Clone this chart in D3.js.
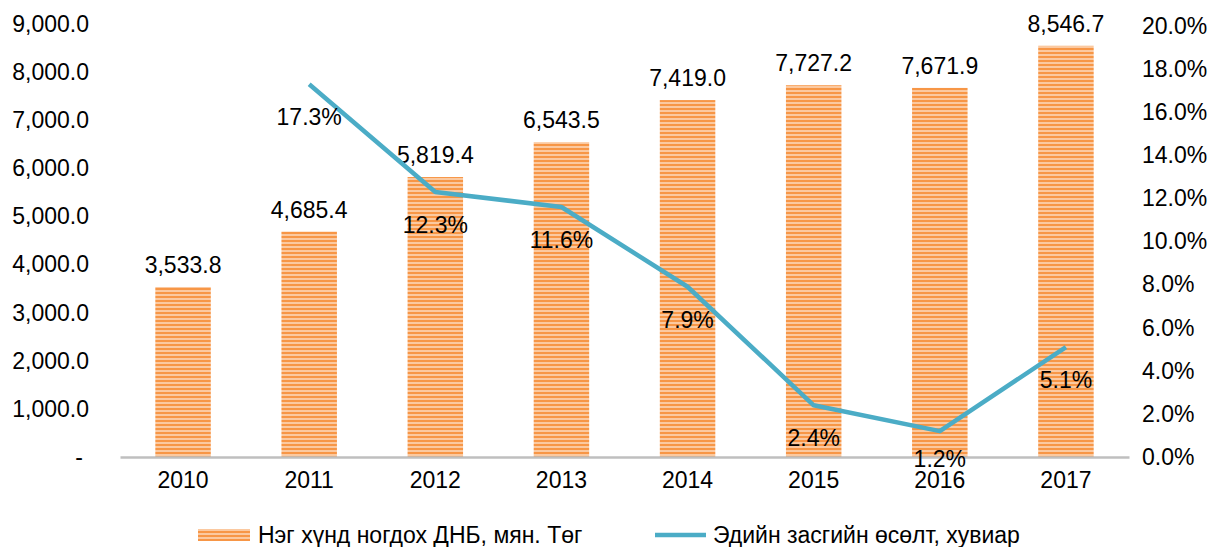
<!DOCTYPE html>
<html lang="mn">
<head>
<meta charset="UTF-8">
<title>ДНБ</title>
<style>
  body { margin: 0; background: #fff; }
  svg text { font-family: "Liberation Sans", Arial, sans-serif; fill: #000; }
</style>
</head>
<body>
<div id="chart"></div>
<script src="https://cdn.jsdelivr.net/npm/d3@7"></script>
<script>
// data
var years = ["2010", "2011", "2012", "2013", "2014", "2015", "2016", "2017"];
var gdpPerCapita = [3533.8, 4685.4, 5819.4, 6543.5, 7419.0, 7727.2, 7671.9, 8546.7];
var growth = [null, 17.3, 12.3, 11.6, 7.9, 2.4, 1.2, 5.1];
var leftTicks = [0, 1000, 2000, 3000, 4000, 5000, 6000, 7000, 8000, 9000];
var rightTicks = [0, 2, 4, 6, 8, 10, 12, 14, 16, 18, 20];
var legendBar = "Нэг хүнд ногдох ДНБ, мян. Төг";
var legendLine = "Эдийн засгийн өсөлт, хувиар";

var W = 1222, H = 547;
var plotL = 120, plotR = 1129, plotT = 24, plotB = 457;
var fs = 23;

var svg = d3.select("#chart").append("svg")
    .attr("width", W).attr("height", H);

// stripe pattern for bars
var pat = svg.append("defs").append("pattern")
    .attr("id", "stripes")
    .attr("patternUnits", "userSpaceOnUse")
    .attr("width", 8).attr("height", 4);
pat.append("rect").attr("width", 8).attr("height", 4).attr("fill", "#fbc9a0");
pat.append("rect").attr("width", 8).attr("height", 2).attr("fill", "#f79646");

var x = d3.scaleBand().domain(years).range([plotL, plotR]).paddingInner(0.56).paddingOuter(0.28);
var y = d3.scaleLinear().domain([0, 9000]).range([plotB, plotT]);
var y2 = d3.scaleLinear().domain([0, 20]).range([plotB, 26]);

var fmt = d3.format(",.1f");

// left axis
var ax = svg.append("g")
    .attr("transform", "translate(" + (plotL - 28) + ",0)")
    .call(d3.axisLeft(y).tickValues(leftTicks).tickSize(0)
        .tickFormat(function(d) { return d === 0 ? "-" : fmt(d); }));
ax.select(".domain").remove();
ax.selectAll("text").attr("font-size", fs);
ax.selectAll(".tick").filter(function(d) { return d === 0; }).select("text").attr("dx", "-6");

// right axis
var ax2 = svg.append("g")
    .attr("transform", "translate(" + (plotR + 10) + ",0)")
    .call(d3.axisRight(y2).tickValues(rightTicks).tickSize(0)
        .tickFormat(function(d) { return d.toFixed(1) + "%"; }));
ax2.select(".domain").remove();
ax2.selectAll("text").attr("font-size", fs);

// bars
svg.selectAll("rect.bar").data(gdpPerCapita).enter().append("rect")
    .attr("class", "bar")
    .attr("x", function(d, i) { return x(years[i]); })
    .attr("width", x.bandwidth())
    .attr("y", function(d) { return y(d); })
    .attr("height", function(d) { return y(0) - y(d); })
    .attr("fill", "url(#stripes)");

// bottom axis
var axb = svg.append("g")
    .attr("transform", "translate(0," + plotB + ")")
    .call(d3.axisBottom(x).tickSize(0).tickPadding(15));
axb.select(".domain").attr("stroke", "#bfbfbf").attr("stroke-width", 2.5);
axb.selectAll("text").attr("font-size", fs);

// bar labels
svg.selectAll("text.barlab").data(gdpPerCapita).enter().append("text")
    .attr("class", "barlab")
    .attr("x", function(d, i) { return x(years[i]) + x.bandwidth() / 2; })
    .attr("y", function(d) { return y(d) - 14; })
    .attr("text-anchor", "middle")
    .attr("font-size", fs)
    .text(function(d) { return fmt(d); });

// growth line
var pts = growth.map(function(g, i) { return { year: years[i], v: g }; })
    .filter(function(p) { return p.v !== null; });
var line = d3.line()
    .x(function(p) { return x(p.year) + x.bandwidth() / 2; })
    .y(function(p) { return y2(p.v); });
svg.append("path").datum(pts)
    .attr("d", line)
    .attr("fill", "none")
    .attr("stroke", "#4bacc6")
    .attr("stroke-width", 4.5)
    .attr("stroke-linejoin", "round");

svg.selectAll("text.linelab").data(pts).enter().append("text")
    .attr("class", "linelab")
    .attr("x", function(p) { return x(p.year) + x.bandwidth() / 2; })
    .attr("y", function(p) { return Math.min(y2(p.v) + 41, plotB + 10); })
    .attr("text-anchor", "middle")
    .attr("font-size", fs)
    .text(function(p) { return p.v.toFixed(1) + "%"; });

// legend
var lg = svg.append("g").attr("transform", "translate(0,535)");
lg.append("rect").attr("x", 198).attr("y", -6).attr("width", 52).attr("height", 12)
    .attr("fill", "url(#stripes)");
lg.append("text").attr("x", 258).attr("y", 8).attr("font-size", fs).text(legendBar);
lg.append("line").attr("x1", 655).attr("x2", 706).attr("y1", 0).attr("y2", 0)
    .attr("stroke", "#4bacc6").attr("stroke-width", 4.5);
lg.append("text").attr("x", 713).attr("y", 8).attr("font-size", fs).text(legendLine);
</script>
</body>
</html>
